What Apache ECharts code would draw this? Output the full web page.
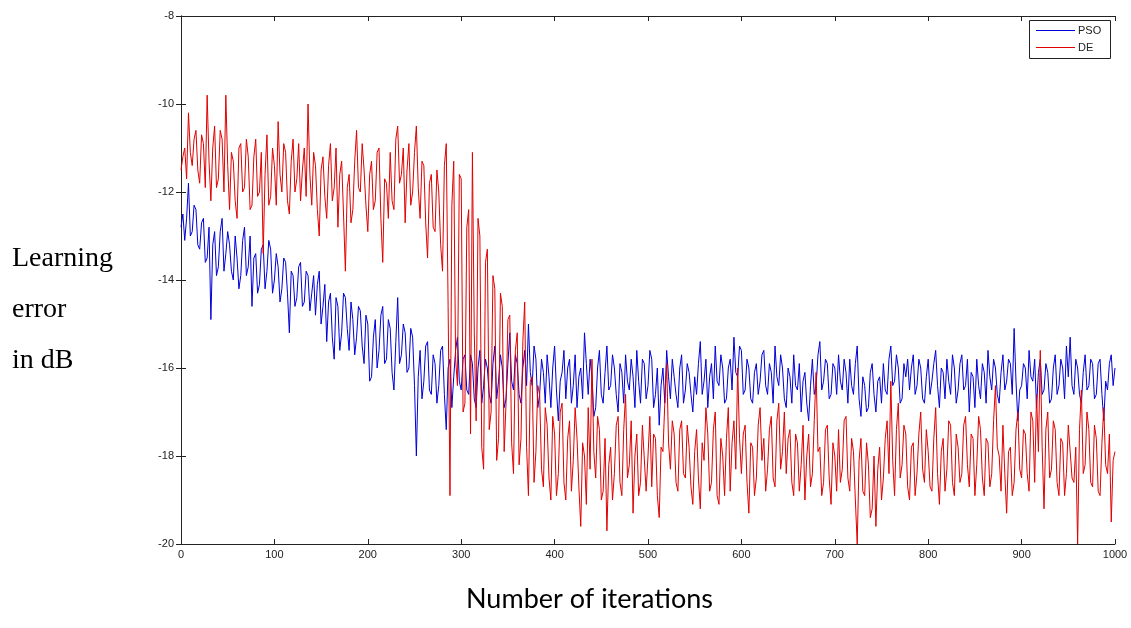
<!DOCTYPE html>
<html>
<head>
<meta charset="utf-8">
<script src="https://cdn.jsdelivr.net/npm/echarts@6/dist/echarts.min.js"></script>
<style>
html,body{margin:0;padding:0;background:#fff;}
#chart{width:1131px;height:628px;}
</style>
</head>
<body>
<div id="chart"></div>
<script>
// iteration step between stored samples
const STEP = 2;
const seriesNames = ['PSO', 'DE'];
const seriesColors = ['#0000d8', '#e00000'];
const xTicks = [0,100,200,300,400,500,600,700,800,900,1000];
const yTicks = [-20,-18,-16,-14,-12,-10,-8];

// PSO learning error (dB), iterations 0,2,4,...,1000
const pso = [
-12.8,-12.5,-13.1,-12.6,-11.8,-13.0,-12.9,-12.3,-12.4,-13.2,-13.3,-12.7,-12.6,-13.6,-13.5,-12.8,-14.9,-13.2,-12.9,-13.9,
-13.7,-12.9,-12.6,-13.8,-13.4,-12.9,-13.2,-13.8,-14.0,-13.0,-13.5,-14.2,-13.9,-13.1,-12.8,-13.9,-13.7,-13.0,-14.6,-13.5,
-13.4,-14.3,-14.1,-13.3,-13.2,-14.2,-13.8,-13.1,-13.3,-14.3,-14.0,-13.4,-13.7,-14.5,-14.2,-13.5,-13.6,-14.3,-15.2,-13.8,
-13.9,-14.6,-14.4,-13.7,-13.6,-14.6,-14.5,-13.8,-13.9,-14.7,-14.3,-13.9,-14.8,-14.1,-13.8,-15.0,-14.6,-14.1,-15.4,-14.5,
-14.3,-15.3,-15.8,-14.4,-14.6,-15.6,-15.2,-14.3,-14.4,-15.1,-15.6,-14.5,-14.9,-15.7,-15.3,-14.6,-14.7,-15.5,-15.9,-14.8,
-15.0,-16.3,-16.2,-15.3,-14.9,-16.0,-15.6,-14.8,-14.6,-15.9,-15.8,-14.9,-15.1,-16.1,-16.5,-15.4,-14.4,-15.9,-15.7,-15.0,
-15.2,-16.1,-16.0,-15.1,-15.3,-16.4,-18.0,-16.2,-15.6,-16.7,-16.3,-15.5,-15.4,-16.5,-16.6,-15.7,-15.9,-16.8,-16.4,-15.6,
-15.5,-16.6,-17.4,-16.0,-15.8,-16.9,-16.2,-15.6,-15.3,-16.3,-16.5,-15.8,-15.7,-16.5,-16.6,-15.7,-15.9,-16.7,-16.9,-16.0,
-15.6,-16.8,-16.4,-15.8,-16.0,-16.6,-16.8,-15.9,-15.5,-16.7,-16.3,-15.7,-16.0,-16.9,-16.7,-15.9,-15.2,-16.3,-16.5,-15.7,
-15.9,-16.6,-16.8,-16.0,-15.6,-16.4,-15.0,-16.1,-16.4,-15.5,-15.8,-16.9,-16.6,-15.8,-16.1,-16.8,-15.7,-16.2,-16.9,-16.0,
-15.5,-16.5,-17.2,-16.3,-16.1,-15.6,-16.7,-16.0,-15.8,-16.8,-16.4,-15.7,-16.9,-16.2,-16.0,-16.7,-15.2,-15.9,-16.6,-15.8,
-16.2,-17.1,-16.9,-16.0,-15.6,-16.6,-16.8,-16.1,-15.5,-16.5,-16.4,-15.7,-16.0,-16.6,-17.0,-15.9,-16.1,-16.8,-15.7,-16.3,
-16.5,-15.8,-16.2,-16.9,-15.6,-16.3,-16.8,-15.8,-15.9,-16.7,-16.4,-15.6,-15.8,-16.9,-16.6,-16.0,-17.3,-16.4,-16.0,-16.8,
-15.6,-16.2,-16.7,-15.8,-16.2,-16.6,-16.9,-16.0,-15.7,-16.8,-16.5,-15.9,-16.1,-16.6,-17.0,-16.2,-16.6,-15.9,-15.4,-16.6,
-16.3,-15.8,-16.9,-16.2,-15.9,-16.7,-15.5,-16.3,-16.4,-15.7,-16.0,-16.8,-16.7,-16.0,-15.8,-16.5,-15.3,-16.1,-16.2,-15.5,
-15.6,-16.6,-16.5,-15.8,-16.0,-16.7,-16.8,-16.1,-15.9,-16.6,-16.3,-15.7,-15.6,-16.4,-16.6,-15.9,-16.1,-16.8,-15.5,-16.2,
-16.4,-15.7,-16.0,-16.7,-16.9,-16.0,-16.2,-16.8,-15.7,-16.4,-16.5,-15.9,-17.0,-16.3,-16.1,-16.8,-17.2,-16.4,-15.8,-16.6,
-16.4,-15.7,-15.4,-16.5,-16.3,-15.8,-15.9,-16.7,-16.6,-15.9,-16.0,-16.6,-15.7,-16.3,-16.5,-15.8,-16.1,-16.8,-15.8,-16.4,
-16.6,-15.9,-15.5,-16.7,-17.1,-16.2,-16.4,-17.0,-16.9,-16.1,-15.9,-16.6,-17.0,-16.3,-16.2,-16.8,-15.9,-16.5,-16.6,-15.8,
-15.5,-16.4,-16.3,-15.7,-16.0,-16.8,-16.7,-15.9,-16.2,-15.8,-16.5,-16.0,-15.7,-16.6,-16.4,-15.8,-16.0,-16.7,-16.8,-16.2,
-15.8,-16.6,-16.3,-15.9,-15.6,-16.4,-16.9,-16.0,-16.1,-16.7,-15.8,-16.3,-16.6,-15.7,-16.0,-16.8,-16.5,-15.9,-15.7,-16.5,
-16.4,-15.8,-17.0,-16.1,-16.2,-16.9,-15.8,-16.4,-16.7,-15.9,-16.1,-16.8,-15.6,-16.2,-16.5,-15.8,-16.0,-16.6,-16.8,-16.1,
-15.7,-16.5,-16.3,-15.8,-15.9,-16.6,-15.1,-16.3,-17.2,-16.5,-16.4,-15.9,-16.0,-16.7,-15.6,-16.2,-16.3,-15.8,-16.9,-16.1,
-15.8,-16.6,-16.5,-15.9,-16.1,-16.8,-16.7,-16.0,-15.7,-16.6,-16.4,-15.8,-16.0,-16.7,-15.5,-16.2,-15.3,-16.4,-16.6,-15.8,
-16.0,-16.6,-16.8,-16.1,-15.7,-16.5,-16.4,-15.8,-15.9,-16.7,-16.6,-15.9,-15.8,-16.6,-17.2,-16.3,-16.5,-15.9,-15.7,-16.4,
-16.0
];

// DE learning error (dB), iterations 0,2,4,...,1000
const de = [
-11.5,-11.2,-11.0,-11.7,-10.2,-11.1,-11.4,-10.8,-10.6,-11.5,-11.8,-10.7,-10.9,-11.9,-9.8,-11.3,-12.2,-11.0,-10.5,-11.9,
-11.7,-10.6,-10.8,-12.0,-9.8,-11.4,-12.4,-11.1,-11.3,-12.2,-12.6,-11.0,-10.9,-12.0,-11.9,-10.8,-11.2,-12.4,-12.3,-11.2,
-10.8,-12.1,-12.0,-11.1,-13.4,-11.6,-10.7,-12.3,-12.1,-11.0,-11.4,-12.3,-10.4,-11.6,-12.0,-10.9,-11.1,-12.2,-12.5,-11.3,
-10.8,-12.0,-11.7,-10.9,-12.2,-11.5,-11.0,-12.1,-10.0,-11.6,-12.3,-11.1,-11.4,-12.4,-13.0,-11.5,-11.2,-12.1,-12.6,-11.4,
-10.9,-12.2,-11.9,-11.0,-12.8,-11.6,-11.3,-12.5,-13.8,-11.9,-11.6,-12.7,-12.4,-11.3,-10.6,-11.9,-12.0,-10.9,-11.5,-12.3,
-12.9,-11.6,-11.3,-12.4,-12.2,-11.1,-11.0,-12.6,-13.6,-11.7,-11.8,-12.6,-11.1,-12.2,-12.4,-10.8,-10.5,-11.8,-11.6,-11.0,
-12.7,-11.5,-10.9,-12.3,-12.0,-11.1,-10.5,-11.9,-12.6,-11.3,-11.4,-12.7,-13.5,-11.8,-11.6,-12.8,-12.9,-11.5,-12.0,-13.2,
-13.8,-11.4,-10.9,-14.6,-18.9,-12.3,-11.3,-15.8,-16.4,-11.6,-11.7,-17.0,-16.8,-12.8,-12.4,-17.5,-11.1,-15.2,-17.2,-12.6,
-13.0,-17.8,-18.3,-13.6,-13.3,-17.4,-17.0,-13.9,-14.2,-18.1,-17.6,-14.3,-14.6,-17.9,-16.8,-14.9,-14.8,-17.7,-18.4,-15.6,
-15.2,-18.2,-17.6,-15.4,-14.5,-17.8,-18.9,-16.3,-16.2,-18.6,-17.9,-16.4,-16.6,-18.3,-18.7,-16.9,-17.3,-18.5,-19.0,-17.1,
-17.5,-18.9,-18.4,-17.0,-16.8,-18.6,-19.0,-17.6,-17.2,-18.8,-18.1,-16.9,-17.6,-18.7,-19.6,-17.7,-18.0,-19.1,-16.9,-18.3,
-15.8,-17.9,-18.5,-17.1,-17.4,-19.0,-18.8,-17.6,-19.7,-18.2,-17.8,-19.0,-18.4,-17.3,-17.1,-18.6,-18.9,-17.4,-16.6,-18.5,
-18.2,-17.2,-19.3,-18.0,-17.5,-18.9,-18.6,-17.3,-17.3,-18.8,-18.0,-17.1,-18.7,-17.5,-17.6,-18.9,-19.4,-17.8,-17.9,-16.8,
-15.9,-17.7,-18.3,-17.2,-17.5,-18.6,-18.8,-17.4,-17.2,-18.4,-18.5,-17.3,-17.8,-18.7,-19.1,-17.9,-17.4,-18.5,-19.2,-17.7,
-18.1,-16.9,-17.5,-18.8,-18.6,-17.4,-17.0,-18.9,-19.1,-17.6,-18.0,-18.9,-17.6,-16.9,-18.8,-17.7,-17.2,-18.3,-16.0,-17.6,
-18.4,-17.5,-17.3,-18.6,-19.3,-17.7,-17.8,-18.9,-18.5,-17.3,-16.9,-18.1,-17.6,-18.8,-18.3,-17.4,-17.1,-18.5,-18.7,-17.2,
-16.8,-18.3,-17.9,-17.0,-18.4,-17.6,-17.4,-18.6,-18.9,-17.5,-17.7,-18.8,-18.2,-17.3,-19.0,-18.0,-17.5,-18.7,-18.4,-17.2,
-16.1,-17.9,-17.8,-18.9,-18.6,-17.4,-17.3,-18.5,-19.1,-17.7,-18.0,-18.8,-17.4,-18.6,-18.3,-17.2,-17.1,-18.5,-18.8,-17.6,
-17.9,-19.0,-20.0,-18.1,-17.6,-18.8,-18.9,-17.7,-18.2,-19.4,-19.2,-18.0,-19.6,-18.3,-17.8,-19.0,-18.5,-17.6,-17.2,-18.4,
-16.3,-18.1,-18.9,-17.4,-16.8,-18.5,-18.2,-17.3,-17.5,-18.7,-19.0,-17.8,-17.7,-18.9,-18.4,-17.5,-17.0,-18.3,-18.6,-17.4,
-17.9,-18.7,-18.8,-17.6,-16.9,-18.4,-19.1,-17.9,-17.6,-18.8,-18.3,-17.2,-17.3,-18.6,-18.9,-17.5,-17.8,-18.6,-18.4,-17.3,
-17.1,-18.2,-18.7,-17.5,-17.6,-18.9,-18.2,-17.1,-17.4,-18.5,-18.9,-17.6,-17.7,-18.7,-18.4,-17.2,-16.4,-17.8,-18.0,-18.8,
-17.3,-18.4,-19.3,-17.9,-17.8,-18.9,-18.6,-17.4,-17.0,-18.3,-18.5,-17.4,-17.5,-18.4,-18.8,-17.0,-17.2,-18.6,-16.6,-17.9,
-15.6,-17.8,-19.2,-17.4,-17.0,-18.5,-18.3,-17.2,-17.4,-18.6,-18.9,-17.6,-17.7,-18.9,-18.4,-17.3,-17.3,-18.5,-18.6,-17.8,
-20.0,-17.4,-16.5,-18.4,-18.2,-17.0,-17.4,-18.6,-18.7,-17.3,-17.6,-18.8,-18.9,-17.7,-16.9,-18.2,-18.4,-17.5,-19.5,-18.1,
-17.9
];

const chart = echarts.init(document.getElementById('chart'), null, {renderer: 'canvas'});
const tickFont = {color: '#222', fontSize: 11, fontFamily: 'Liberation Sans, Arial, sans-serif'};
const axisLine = {show: true, lineStyle: {color: '#222', width: 1}};
const tick = {show: true, inside: true, length: 5, lineStyle: {color: '#222'}};
const legendFont = '11px "Liberation Sans", Arial, sans-serif';

function toPts(arr){ return arr.map((v, i) => [i * STEP, v]); }

// legend box drawn as a graphic group (box + sample line + label per series)
const legendGroup = {
  type: 'group', left: 1029, top: 20,
  children: [
    {type: 'rect', shape: {x: 0.5, y: 0.5, width: 81, height: 38}, style: {fill: '#fff', stroke: '#222', lineWidth: 1}},
    ...seriesNames.flatMap((n, i) => [
      {type: 'line', shape: {x1: 7, y1: 10.5 + i * 17, x2: 46, y2: 10.5 + i * 17}, style: {stroke: seriesColors[i], lineWidth: 1}},
      {type: 'text', x: 49, y: 10.5 + i * 17, style: {text: n, font: legendFont, fill: '#222', verticalAlign: 'middle'}}
    ])
  ]
};

const option = {
  animation: false,
  backgroundColor: '#fff',
  grid: {left: 181, right: 16, top: 16, bottom: 84, containLabel: false},
  xAxis: [
    {type: 'value', min: xTicks[0], max: xTicks[xTicks.length-1], interval: 100, position: 'bottom',
     axisLine: axisLine, axisTick: tick, splitLine: {show: false},
     axisLabel: Object.assign({margin: 5, formatter: v => String(v)}, tickFont)},
    {type: 'value', min: xTicks[0], max: xTicks[xTicks.length-1], interval: 100, position: 'top',
     axisLine: axisLine, axisTick: tick, splitLine: {show: false}, axisLabel: {show: false}}
  ],
  yAxis: [
    {type: 'value', min: yTicks[0], max: yTicks[yTicks.length-1], interval: 2, position: 'left',
     axisLine: axisLine, axisTick: tick, splitLine: {show: false},
     axisLabel: Object.assign({margin: 7, formatter: v => String(v)}, tickFont)},
    {type: 'value', min: yTicks[0], max: yTicks[yTicks.length-1], interval: 2, position: 'right',
     axisLine: axisLine, axisTick: tick, splitLine: {show: false}, axisLabel: {show: false}}
  ],
  series: [
    {name: seriesNames[0], type: 'line', data: toPts(pso), showSymbol: false, symbol: 'none',
     lineStyle: {color: seriesColors[0], width: 1}, itemStyle: {color: seriesColors[0]}, z: 2},
    {name: seriesNames[1], type: 'line', data: toPts(de), showSymbol: false, symbol: 'none',
     lineStyle: {color: seriesColors[1], width: 1}, itemStyle: {color: seriesColors[1]}, z: 3}
  ],
  graphic: [
    legendGroup,
    {type: 'text', left: 12, top: 245, style: {text: 'Learning', font: '28px "Liberation Serif", "Times New Roman", serif', fill: '#000'}},
    {type: 'text', left: 12, top: 296, style: {text: 'error', font: '28px "Liberation Serif", "Times New Roman", serif', fill: '#000'}},
    {type: 'text', left: 12, top: 347, style: {text: 'in dB', font: '28px "Liberation Serif", "Times New Roman", serif', fill: '#000'}},
    {type: 'text', left: 466, top: 586, style: {text: 'Number of iterations', font: '27px Lato, "Open Sans", sans-serif', fill: '#000'}}
  ]
};
chart.setOption(option);
</script>
</body>
</html>
